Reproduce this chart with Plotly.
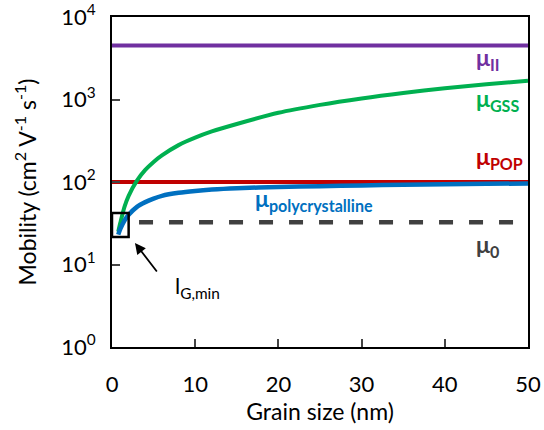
import math
import plotly.graph_objects as go

# ---- data ----
grain_size = [0.75, 1, 1.5, 2, 3, 4, 5, 6, 8, 10, 12, 15, 20, 25, 30, 35, 40, 45, 50]
mu_gss = [25, 32, 50, 68, 104, 140, 175, 210, 280, 345, 410, 505, 690, 860, 1030, 1200, 1370, 1530, 1690]
mu_poly = [23, 27, 34, 40, 50, 57, 63, 68, 74, 78, 81, 84, 87, 89, 91, 92.5, 94, 95, 96]

ii_x = [0, 50]
mu_ii = [4500, 4500]
pop_x = [0, 50]
mu_pop = [100, 100]
zero_x = [3.25, 48.3]
mu_zero = [32.5, 32.5]

box_x = [0, 2, 2, 0, 0]
box_y = [21.5, 21.5, 42, 42, 21.5]

x_ticks = [0, 10, 20, 30, 40, 50]
y_ticks = [1, 10, 100, 1000, 10000]
y_ticktext = ["10<sup>0</sup>", "10<sup>1</sup>", "10<sup>2</sup>", "10<sup>3</sup>", "10<sup>4</sup>"]

PURPLE = "#7030A0"
GREEN = "#00B050"
RED = "#C00000"
BLUE = "#0070C0"
GRAY = "#404040"
FONT = "Lato"

fig = go.Figure()
fig.add_trace(go.Scatter(x=ii_x, y=mu_ii, mode="lines", line=dict(color=PURPLE, width=4), showlegend=False))
fig.add_trace(go.Scatter(x=pop_x, y=mu_pop, mode="lines", line=dict(color=RED, width=4), showlegend=False))
fig.add_trace(go.Scatter(x=zero_x, y=mu_zero, mode="lines", line=dict(color=GRAY, width=4.5, dash="14px,16px"), showlegend=False))
fig.add_trace(go.Scatter(x=grain_size, y=mu_gss, mode="lines", line=dict(color=GREEN, width=4, shape="spline", smoothing=0.8), showlegend=False))
fig.add_trace(go.Scatter(x=grain_size, y=mu_poly, mode="lines", line=dict(color=BLUE, width=4.5, shape="spline", smoothing=0.8), showlegend=False))
fig.add_trace(go.Scatter(x=box_x, y=box_y, mode="lines", line=dict(color="black", width=2.5), showlegend=False))

def label(x, yval, text, color, size=23):
    fig.add_annotation(x=x, y=math.log10(yval), xref="x", yref="y", text=text, showarrow=False,
                       xanchor="left", yanchor="middle", font=dict(family=FONT, size=size, color=color))

label(43.5, 3120, "<b>μ<sub>II</sub></b>", PURPLE)
label(43.5, 1010, "<b>μ<sub>GSS</sub></b>", GREEN)
label(43.5, 196, "<b>μ<sub>POP</sub></b>", RED)
label(16.9, 61, "<b>μ<sub>polycrystalline</sub></b>", BLUE)
label(43.5, 17.1, "<b>μ<sub>0</sub></b>", GRAY)
label(7.3, 5.3, "l<sub>G,min</sub>", "black", 22)

fig.add_annotation(x=2.76, y=math.log10(18.2), ax=5.53, ay=math.log10(7.9), xref="x", yref="y",
                   axref="x", ayref="y", text="", showarrow=True, arrowhead=2, arrowsize=1.2,
                   arrowwidth=1.8, arrowcolor="black")

fig.update_xaxes(range=[0, 50], tickvals=x_ticks, ticks="inside", ticklen=8, tickwidth=2, automargin=False,
                 showline=True, linewidth=2, linecolor="black", mirror=True, showgrid=False, zeroline=False,
                 tickfont=dict(family=FONT, size=22, color="black"), ticklabelstandoff=17,
                 title=dict(text="Grain size (nm)", font=dict(family=FONT, size=23, color="black"), standoff=0))
fig.update_yaxes(type="log", range=[0, 4], tickvals=y_ticks, ticktext=y_ticktext, ticks="inside", ticklen=8,
                 tickwidth=2, showline=True, linewidth=2, linecolor="black", mirror=True, showgrid=False,
                 zeroline=False, tickfont=dict(family=FONT, size=22, color="black"), ticklabelstandoff=10,
                 automargin=False,
                 title=dict(text="Mobility (cm<sup>2</sup> V<sup>-1</sup> s<sup>-1</sup>)",
                            font=dict(family=FONT, size=23, color="black"), standoff=18))

fig.update_layout(width=544, height=430, margin=dict(l=112, r=16, t=17, b=83, autoexpand=False),
                  plot_bgcolor="white", paper_bgcolor="white", font=dict(family=FONT))
fig.write_html("out.html")
